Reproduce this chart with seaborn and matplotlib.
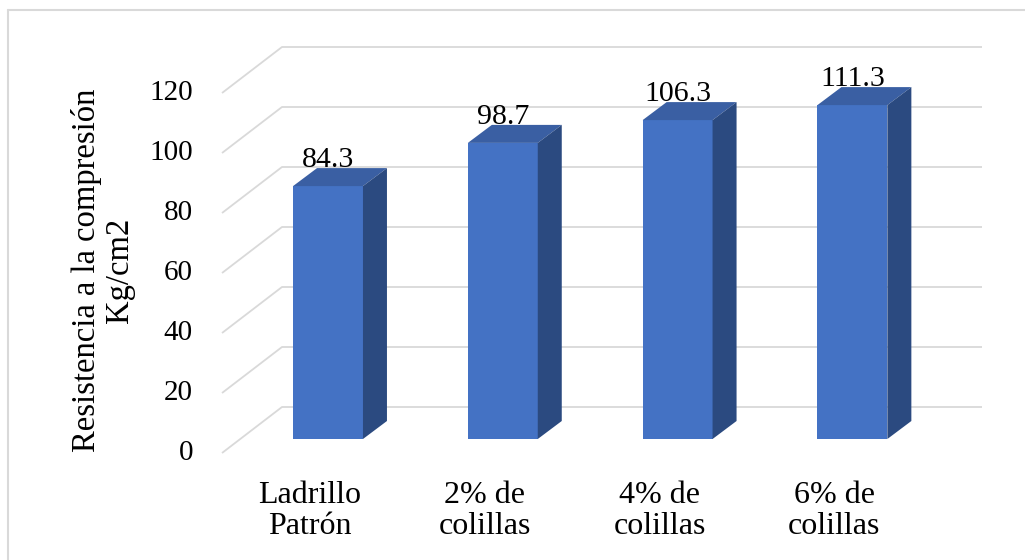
import numpy as np
import pandas as pd
import seaborn as sns
import matplotlib.pyplot as plt
from matplotlib.patches import Polygon
from matplotlib.lines import Line2D

categorias = ["Ladrillo\nPatrón", "2% de\ncolillas", "4% de\ncolillas", "6% de\ncolillas"]
resistencia = [84.3, 98.7, 106.3, 111.3]
ticks = [0, 20, 40, 60, 80, 100, 120]
ylabel = "Resistencia a la compresión\nKg/cm2"

sns.set_style("white")
plt.rcParams['font.family'] = ['Liberation Serif', 'DejaVu Serif']
plt.rcParams['text.color'] = 'black'

W, H = 1025, 560
fig = plt.figure(figsize=(W / 100, H / 100), dpi=100)
ax = fig.add_axes([0, 0, 1, 1])

# pixel scale: one category = 174.8 px, one unit = 3 px, bar base at row 439
PX, PY, X0, Y0 = 174.8, 3.0, 328, 439

# 3d look: front plane / back wall offsets
front_dx, front_dy = (222 - X0) / PX, -14 / PY
back_dx, back_dy = (282 - X0) / PX, 32 / PY
right_x = (982 - X0) / PX
bar_w = 0.4
depth_x, depth_y = 24 / PX, 18 / PY

front = '#4472C4'
top_c = '#3A5FA3'
side_c = '#2B4A80'
grid_c = '#D9D9D9'

df = pd.DataFrame({'grupo': categorias, 'valor': resistencia})
sns.barplot(data=df, x='grupo', y='valor', color=front, saturation=1,
            width=bar_w, ax=ax, zorder=3, linewidth=0, edgecolor='none')

# gridlines on back wall + left wall
for t in ticks:
    ax.plot([front_dx, back_dx, right_x], [t + front_dy, t + back_dy, t + back_dy],
            color=grid_c, lw=1.3, zorder=1, solid_capstyle='butt')
    ax.text((193 - X0) / PX, t + front_dy, str(t), ha='right', va='center',
            fontsize=21)

for i, v in enumerate(resistencia):
    xr = i + bar_w / 2
    xl = i - bar_w / 2
    top = Polygon([(xl, v), (xr, v), (xr + depth_x, v + depth_y), (xl + depth_x, v + depth_y)],
                  closed=True, facecolor=top_c, edgecolor='none', zorder=4)
    side = Polygon([(xr, 0), (xr, v), (xr + depth_x, v + depth_y), (xr + depth_x, depth_y)],
                   closed=True, facecolor=side_c, edgecolor='none', zorder=4)
    ax.add_patch(top)
    ax.add_patch(side)
    ax.text(i, v + depth_y + 0.3, f"{v:.1f}", ha='center', va='baseline', fontsize=21.5, zorder=5)
    ax.text(i - 18 / PX, (Y0 - 511) / PY, categorias[i], ha='center', va='center',
            fontsize=23, linespacing=1.1)

ax.text((103 - X0) / PX, (Y0 - 270) / PY, ylabel, rotation=90, ha='center', va='center',
        fontsize=23.5, linespacing=1.1, multialignment='center')

ax.set_xlim(-X0 / PX, (W - X0) / PX)
ax.set_ylim(-(H - Y0) / PY, Y0 / PY)
ax.set_axis_off()

# outer chart border (only top and left visible)
fig.add_artist(Line2D([8 / W, 1.01], [1 - 10 / H, 1 - 10 / H], color=grid_c, lw=1.5,
                      transform=fig.transFigure))
fig.add_artist(Line2D([8 / W, 8 / W], [1 - 10 / H, -0.01], color=grid_c, lw=1.5,
                      transform=fig.transFigure))

fig.savefig('out.png', dpi=100)
